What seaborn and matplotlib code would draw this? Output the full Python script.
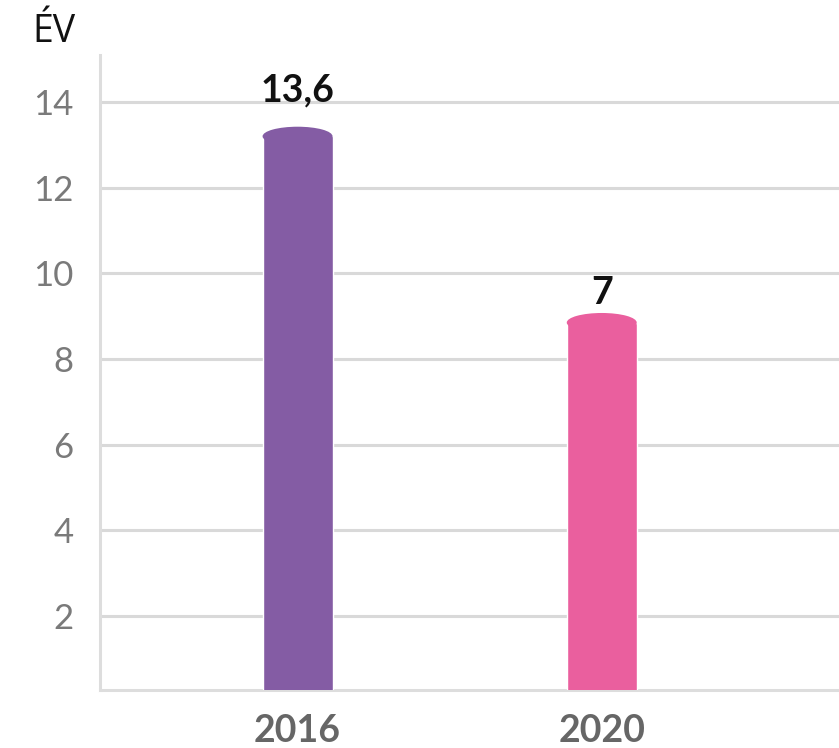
import matplotlib
matplotlib.use("Agg")
import matplotlib.pyplot as plt
from matplotlib.patches import Ellipse
import seaborn as sns
import pandas as pd

# values
years = ["2016", "2020"]
bar_heights = [13.2, 8.85]
value_labels = ["13,6", "7"]
bar_colors = ["#845ca4", "#ea5f9e"]
y_ticks = [2, 4, 6, 8, 10, 12, 14]

df = pd.DataFrame({"year": years, "value": bar_heights})

sns.set_style("white")
plt.rcParams["font.family"] = ["Lato", "DejaVu Sans"]

fig = plt.figure(figsize=(8.39, 7.48), dpi=100)
ax = fig.add_axes([0.119, 0.0775, 0.881, 0.849])

sns.barplot(data=df, x="year", y="value", hue="year", palette=bar_colors,
            width=0.23, legend=False, ax=ax, saturation=1, zorder=3)

# rounded (cylinder) caps on top of each bar
for patch, col in zip(ax.patches, bar_colors):
    cx = patch.get_x() + patch.get_width() / 2
    top = patch.get_y() + patch.get_height()
    ax.add_patch(Ellipse((cx, top), patch.get_width(), 0.45,
                         facecolor=col, edgecolor="none", zorder=3))

# label gaps differ in the original
for container, lab, pad in zip(ax.containers, value_labels, (21, 9)):
    ax.bar_label(container, labels=[lab], padding=pad, fontsize=27,
                 fontweight="bold", color="#111111")

ax.set_ylim(0.27, 15.1)
ax.set_xlim(-0.65, 1.78)
ax.set_yticks(y_ticks)
ax.yaxis.grid(True, color="#d9d9d9", linewidth=2.2)
ax.set_axisbelow(True)

ax.tick_params(axis="y", length=0, pad=19, labelsize=25, labelcolor="#7a7a7a")
ax.tick_params(axis="x", length=0, pad=17, labelsize=27, labelcolor="#666666")
for lbl in ax.get_xticklabels():
    lbl.set_fontweight("bold")

ax.set_xlabel("")
ax.set_ylabel("")
for side in ["top", "right"]:
    ax.spines[side].set_visible(False)
for side in ["left", "bottom"]:
    ax.spines[side].set_color("#dddddd")
    ax.spines[side].set_linewidth(2.2)

fig.text(0.039, 0.957, "ÉV", fontsize=27, color="#111111",
         family=["Open Sans", "DejaVu Sans"], va="center", ha="left")

fig.savefig("out.png", dpi=100)
